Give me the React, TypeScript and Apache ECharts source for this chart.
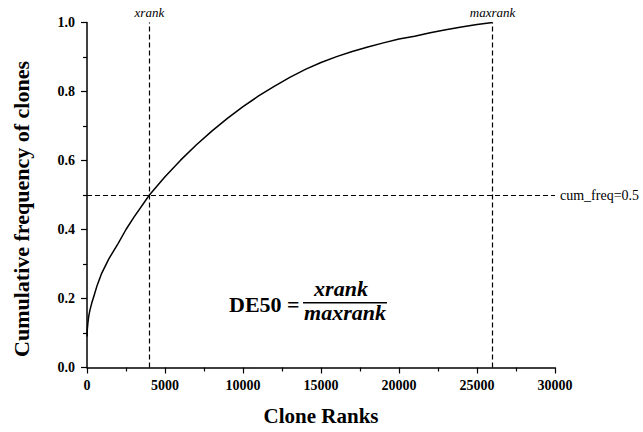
import React, { useEffect, useRef } from "react";
import * as echarts from "echarts";

const cloneRanks = [0, 20, 60, 110, 180, 300, 450, 650, 940, 1400, 2000, 2500, 3000, 4000, 5000, 6000, 7000, 8000, 9000, 10000, 11000, 12000, 13000, 14000, 15000, 16000, 17000, 18000, 19000, 20000, 21000, 22000, 23000, 24000, 25000, 26000];
const cumFreq = [0.09, 0.11, 0.13, 0.148, 0.165, 0.186, 0.208, 0.238, 0.273, 0.315, 0.36, 0.4, 0.435, 0.5, 0.553, 0.601, 0.645, 0.685, 0.722, 0.756, 0.787, 0.815, 0.841, 0.864, 0.884, 0.901, 0.916, 0.929, 0.941, 0.952, 0.96, 0.97, 0.979, 0.987, 0.994, 1.0];

const xRank = 4000;
const maxRank = 26000;
const cutoff = 0.5;

const xTicks = { min: 0, max: 30000, interval: 5000 };
const yTicks = { min: 0, max: 1, interval: 0.2 };

const SERIF = "Liberation Serif";

export default function App() {
  const ref = useRef<HTMLDivElement>(null);
  useEffect(() => {
    if (!ref.current) return;
    const chart = echarts.init(ref.current, null, { renderer: "svg" });
    const axisCommon = {
      axisLine: { show: true, lineStyle: { color: "#000", width: 1.5 } },
      axisTick: { show: true, length: 6, lineStyle: { color: "#000", width: 1.2 } },
      minorTick: { show: true, splitNumber: 2, length: 4, lineStyle: { color: "#000", width: 1.2 } },
      splitLine: { show: false },
      minorSplitLine: { show: false },
    };
    chart.setOption({
      animation: false,
      backgroundColor: "#fff",
      textStyle: { fontFamily: SERIF },
      grid: {
        left: 87,
        right: 88,
        top: 22.5,
        bottom: 64.5,
        containLabel: false,
        outerBoundsMode: "none",
      },
      xAxis: {
        type: "value",
        ...xTicks,
        ...axisCommon,
        name: "Clone Ranks",
        nameLocation: "middle",
        nameGap: 38,
        nameTextStyle: {
          fontFamily: SERIF,
          fontWeight: "bold",
          fontSize: 21,
          color: "#000",
          verticalAlign: "top",
        },
        axisLabel: {
          margin: 11,
          fontFamily: SERIF,
          fontWeight: "bold",
          fontSize: 14,
          color: "#000",
          formatter: (v: number) => String(v),
        },
      },
      yAxis: {
        type: "value",
        ...yTicks,
        ...axisCommon,
        axisLabel: {
          margin: 12,
          fontFamily: SERIF,
          fontWeight: "bold",
          fontSize: 14,
          color: "#000",
          formatter: (v: number) => v.toFixed(1),
        },
      },
      series: [
        {
          type: "line",
          data: cloneRanks.map((x, i) => [x, cumFreq[i]]),
          showSymbol: false,
          symbol: "none",
          smooth: false,
          lineStyle: { color: "#000", width: 1.5 },
          markLine: {
            silent: true,
            symbol: "none",
            lineStyle: { color: "#000", width: 1.2, type: [5, 3] },
            label: { color: "#000", fontFamily: SERIF, fontSize: 13 },
            data: [
              {
                xAxis: xRank,
                label: {
                  formatter: "xrank",
                  position: "end",
                  fontStyle: "italic",
                  fontFamily: SERIF,
                  fontSize: 13,
                  color: "#000",
                  distance: 4,
                },
              },
              {
                xAxis: maxRank,
                label: {
                  formatter: "maxrank",
                  position: "end",
                  fontStyle: "italic",
                  fontFamily: SERIF,
                  fontSize: 13,
                  color: "#000",
                  distance: 4,
                },
              },
              {
                yAxis: cutoff,
                label: {
                  formatter: "cum_freq=0.5",
                  position: "end",
                  fontFamily: SERIF,
                  fontSize: 14,
                  color: "#000",
                  distance: 5,
                },
              },
            ],
          },
        },
      ],
      graphic: [
        {
          type: "text",
          x: 21,
          y: 209,
          rotation: Math.PI / 2,
          style: {
            text: "Cumulative frequency of clones",
            fontFamily: SERIF,
            fontWeight: "bold",
            fontSize: 22,
            fill: "#000",
            align: "center",
            verticalAlign: "middle",
          },
        },
        {
          type: "text",
          x: 229,
          y: 304,
          style: {
            text: "DE50 =",
            fontFamily: SERIF,
            fontWeight: "bold",
            fontSize: 22,
            fill: "#000",
            align: "left",
            verticalAlign: "middle",
          },
        },
        {
          type: "line",
          shape: { x1: 303, y1: 302.7, x2: 387, y2: 302.7 },
          style: { stroke: "#000", lineWidth: 1.6 },
        },
        {
          type: "text",
          x: 341,
          y: 288,
          style: {
            text: "xrank",
            fontFamily: SERIF,
            fontWeight: "bold",
            fontStyle: "italic",
            fontSize: 22,
            fill: "#000",
            align: "center",
            verticalAlign: "middle",
          },
        },
        {
          type: "text",
          x: 345,
          y: 312,
          style: {
            text: "maxrank",
            fontFamily: SERIF,
            fontWeight: "bold",
            fontStyle: "italic",
            fontSize: 22,
            fill: "#000",
            align: "center",
            verticalAlign: "middle",
          },
        },
      ],
    });
    return () => chart.dispose();
  }, []);
  return (
    <div
      ref={ref}
      style={{ position: "fixed", left: 0, top: 0, width: 643, height: 432, background: "#fff" }}
    />
  );
}
